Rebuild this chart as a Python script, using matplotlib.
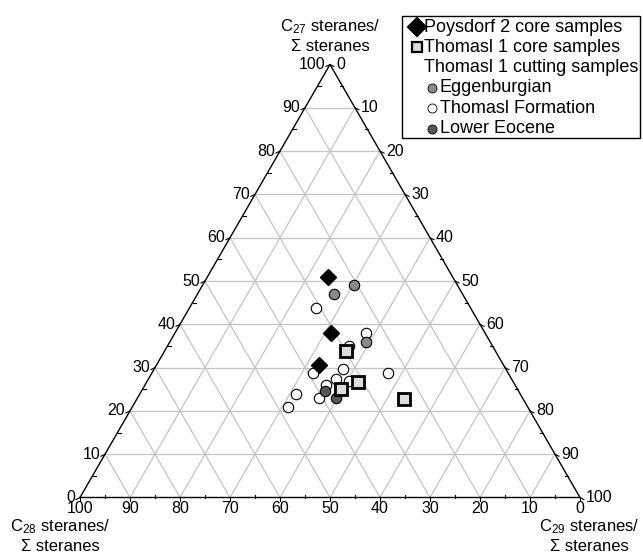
import numpy as np
import matplotlib.pyplot as plt

plt.rcParams['font.family'] = ['Liberation Sans', 'DejaVu Sans']
plt.rcParams['mathtext.fontset'] = 'custom'
plt.rcParams['mathtext.rm'] = 'Liberation Sans'
plt.rcParams['mathtext.it'] = 'Liberation Sans:italic'

H = np.sqrt(3) / 2  # triangle height for unit side

# sterane compositions in % (C27, C28, C29)
poysdorf_c27 = [50.9, 37.9, 30.7]
poysdorf_c28 = [24.9, 30.9, 36.9]
poysdorf_c29 = [24.2, 31.2, 32.4]

thomasl_core_c27 = [33.8, 26.6, 25.1, 22.8]
thomasl_core_c28 = [29.9, 31.1, 35.3, 23.8]
thomasl_core_c29 = [36.3, 42.3, 39.6, 53.4]

eggenburgian_c27 = [49.0, 46.9, 35.8]
eggenburgian_c28 = [20.7, 25.8, 24.9]
eggenburgian_c29 = [30.3, 27.3, 39.3]

thomasl_fm_c27 = [43.8, 38.0, 34.9, 29.7, 28.7, 28.7, 27.3, 26.9, 25.9, 23.9, 22.9, 20.9]
thomasl_fm_c28 = [30.9, 23.8, 28.8, 32.5, 39.0, 24.0, 35.2, 32.8, 37.9, 44.9, 40.8, 47.9]
thomasl_fm_c29 = [25.3, 38.2, 36.3, 37.8, 32.3, 47.3, 37.5, 40.3, 36.2, 31.2, 36.3, 31.2]

lower_eocene_c27 = [24.5, 23.0]
lower_eocene_c28 = [38.7, 37.3]
lower_eocene_c29 = [36.8, 39.7]

ticks = list(range(0, 101, 10))


def tern(c27, c28, c29):
    c27 = np.asarray(c27, float)
    c28 = np.asarray(c28, float)
    c29 = np.asarray(c29, float)
    tot = c27 + c28 + c29
    a = c27 / tot
    b = c29 / tot
    return b + a / 2, a * H


fig = plt.figure(figsize=(6.43, 5.57), dpi=100)
ax = fig.add_axes([80 / 643, (557 - 497.5) / 557, 500 / 643, 433 / 557])
ax.set_xlim(0, 1)
ax.set_ylim(0, H)
ax.axis('off')

px = 1 / 500  # one pixel in data units
grid_kw = dict(color='#c4c4c4', lw=0.9, zorder=1)
for k in range(10, 100, 10):
    f = k / 100
    # constant C27
    ax.plot([f / 2, 1 - f / 2], [f * H, f * H], **grid_kw)
    # constant C29
    ax.plot([f, f + (1 - f) / 2], [0, (1 - f) * H], **grid_kw)
    # constant C28
    ax.plot([1 - f, (1 - f) / 2], [0, (1 - f) * H], **grid_kw)

ax.plot([0, 1, 0.5, 0], [0, 0, H, 0], color='black', lw=1.0, zorder=2,
        solid_joinstyle='miter', clip_on=False)

tick_kw = dict(color='black', lw=0.8, clip_on=False, zorder=2)
fs = 11.5
for k in range(0, 101, 5):
    f = k / 100
    major = k % 10 == 0
    # left edge (C27)
    x, y = f / 2, f * H
    if major:
        ax.plot([x, x - 4 * px], [y, y - 2 * px], **tick_kw)
        ax.text(x - 5 * px, y, str(k), ha='right', va='center', fontsize=fs)
    else:
        ax.plot([x, x + 3 * px], [y, y], **tick_kw)
    # right edge (C29)
    x, y = f + (1 - f) / 2, (1 - f) * H
    if major:
        ax.plot([x, x + 4 * px], [y, y - 2 * px], **tick_kw)
        ax.text(x + 6 * px, y, str(k), ha='left', va='center', fontsize=fs)
    else:
        ax.plot([x, x - 3 * px], [y, y], **tick_kw)
    # bottom edge (C28)
    x = 1 - f
    if major:
        ax.plot([x, x], [0, -4 * px], **tick_kw)
        ax.text(x, -4 * px, str(k), ha='center', va='top', fontsize=fs)
    else:
        ax.plot([x, x], [0, 3 * px], **tick_kw)

title_fs = 12
title_kw = dict(fontsize=title_fs, linespacing=1.25, ha='center')
ax.text(0.5, H + 11 * px, 'C$_{\\mathregular{27}}$ steranes/\n\u03a3 steranes',
        va='bottom', **title_kw)
ax.text(-20 * px, -20 * px, 'C$_{\\mathregular{28}}$ steranes/\n\u03a3 steranes',
        va='top', **title_kw)
ax.text(1 + 9 * px, -20 * px, 'C$_{\\mathregular{29}}$ steranes/\n\u03a3 steranes',
        va='top', **title_kw)

# samples
x, y = tern(thomasl_fm_c27, thomasl_fm_c28, thomasl_fm_c29)
ax.plot(x, y, 'o', ms=7.5, mfc='white', mec='black', mew=0.8, ls='none', zorder=3)
x, y = tern(eggenburgian_c27, eggenburgian_c28, eggenburgian_c29)
ax.plot(x, y, 'o', ms=7.5, mfc='#8a8a8a', mec='black', mew=0.8, ls='none', zorder=4)
x, y = tern(lower_eocene_c27, lower_eocene_c28, lower_eocene_c29)
ax.plot(x, y, 'o', ms=7.5, mfc='#575757', mec='black', mew=0.8, ls='none', zorder=4)
x, y = tern(thomasl_core_c27, thomasl_core_c28, thomasl_core_c29)
ax.plot(x, y, 's', ms=8, mfc='#dcdcdc', mec='black', mew=2.0, ls='none', zorder=5)
x, y = tern(poysdorf_c27, poysdorf_c28, poysdorf_c29)
ax.plot(x, y, 'D', ms=8.5, mfc='black', mec='black', ls='none', zorder=6)

# legend box
lg = fig.add_axes([0, 0, 1, 1], facecolor='none')
lg.set_xlim(0, 643)
lg.set_ylim(557, 0)
lg.axis('off')
lg.add_patch(plt.Rectangle((402, 16), 238, 122, fill=False, ec='black', lw=1.0))
lfs = 13
rows = [
    ('D', 'black', 1.5, 417, 'Poysdorf 2 core samples', 9.0),
    ('s', '#dcdcdc', 1.6, 417, 'Thomasl 1 core samples', 7.0),
    (None, None, 0, 417, 'Thomasl 1 cutting samples', 0),
    ('o', '#8a8a8a', 0.6, 432, 'Eggenburgian', 6.5),
    ('o', 'white', 0.6, 432, 'Thomasl Formation', 6.5),
    ('o', '#575757', 0.6, 432, 'Lower Eocene', 6.5),
]
for i, (m, fc, mew, mx, label, ms) in enumerate(rows):
    yy = 27 + i * 20.3
    if m is not None:
        lg.plot([mx], [yy], m, ms=ms, mfc=fc, mec='black', mew=mew)
    lg.text(mx + 7.5, yy, label, ha='left', va='center', fontsize=lfs)

fig.savefig('out.png', dpi=100)
